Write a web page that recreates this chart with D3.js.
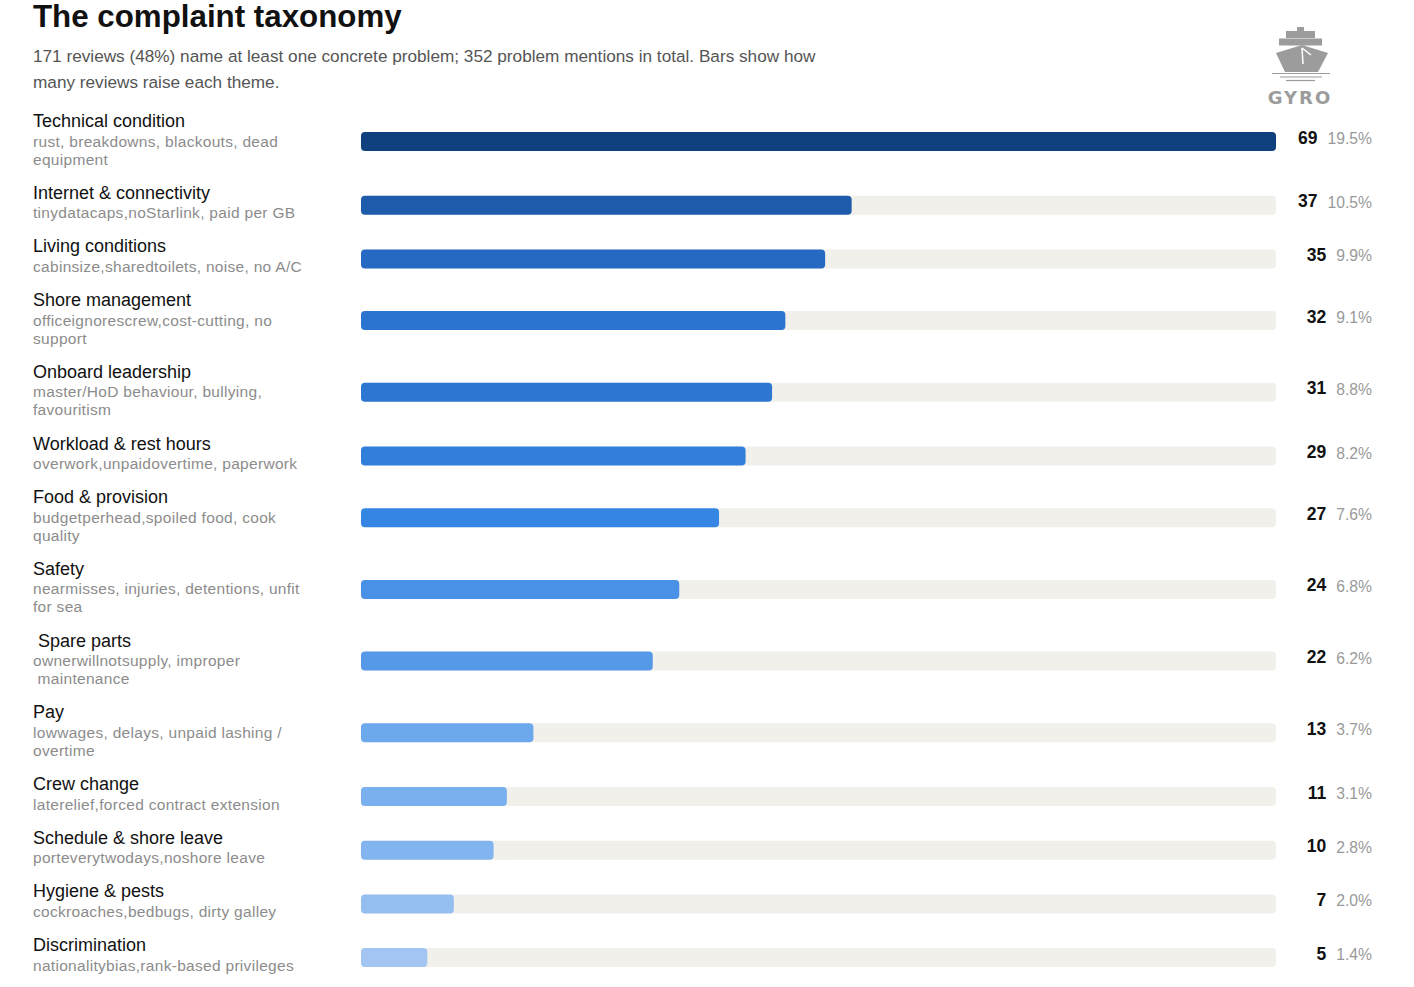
<!DOCTYPE html>
<html>
<head>
<meta charset="utf-8">
<script src="https://cdn.jsdelivr.net/npm/d3@7"></script>
<style>
  body { margin: 0; background: #fff; }
  svg { display: block; font-family: "Liberation Sans", Arial, sans-serif; }
</style>
</head>
<body>
<script>
// Complaint themes, in display order
const categories = [
  "Technical condition", "Internet & connectivity", "Living conditions", "Shore management",
  "Onboard leadership", "Workload & rest hours", "Food & provision", "Safety",
  " Spare parts", "Pay", "Crew change", "Schedule & shore leave", "Hygiene & pests", "Discrimination"
];

// Sub-line text as it wraps in the reference
const descriptions = [
  ["rust, breakdowns, blackouts, dead", "equipment"],
  ["tinydatacaps,noStarlink, paid per GB"],
  ["cabinsize,sharedtoilets, noise, no A/C"],
  ["officeignorescrew,cost-cutting, no", "support"],
  ["master/HoD behaviour, bullying,", "favouritism"],
  ["overwork,unpaidovertime, paperwork"],
  ["budgetperhead,spoiled food, cook", "quality"],
  ["nearmisses, injuries, detentions, unfit", "for sea"],
  ["ownerwillnotsupply, improper", " maintenance"],
  ["lowwages, delays, unpaid lashing /", "overtime"],
  ["laterelief,forced contract extension"],
  ["porteverytwodays,noshore leave"],
  ["cockroaches,bedbugs, dirty galley"],
  ["nationalitybias,rank-based privileges"]
];

const counts = [69, 37, 35, 32, 31, 29, 27, 24, 22, 13, 11, 10, 7, 5];
const sharePct = [19.5, 10.5, 9.9, 9.1, 8.8, 8.2, 7.6, 6.8, 6.2, 3.7, 3.1, 2.8, 2.0, 1.4];

const width = 1414, height = 987;

const svg = d3.select("body").append("svg")
  .attr("width", width)
  .attr("height", height);

// Header
svg.append("text")
  .attr("x", 33).attr("y", 27)
  .attr("font-size", 31.3).attr("font-weight", "bold").attr("fill", "#111")
  .text("The complaint taxonomy");

const subtitle = [
  "171 reviews (48%) name at least one concrete problem; 352 problem mentions in total. Bars show how",
  "many reviews raise each theme."
];
svg.append("g").selectAll("text")
  .data(subtitle)
  .join("text")
  .attr("x", 33).attr("y", (d, i) => 62 + i * 26)
  .attr("font-size", 17.2).attr("fill", "#555")
  .text(d => d);

// Logo
const logo = svg.append("g").attr("fill", "#9c9c9c");
logo.append("rect").attr("x", 1297).attr("y", 27).attr("width", 7).attr("height", 4);
logo.append("rect").attr("x", 1286).attr("y", 31).attr("width", 29).attr("height", 7);
logo.append("rect").attr("x", 1279).attr("y", 38.5).attr("width", 43).attr("height", 7);
logo.append("path").attr("d", "M1276,53 L1302,45 L1328,53 L1318,72 L1285,72 Z");
logo.append("path").attr("d", "M1302,48 L1303,64 M1302,48 L1311,55")
  .attr("stroke", "#fff").attr("stroke-width", 1.5).attr("fill", "none");
logo.append("g").attr("stroke", "#9c9c9c").attr("stroke-width", 1.2)
  .selectAll("line")
  .data([[1272, 1330, 73.5], [1280, 1322, 77], [1286, 1315, 80.5]])
  .join("line")
  .attr("x1", d => d[0]).attr("x2", d => d[1]).attr("y1", d => d[2]).attr("y2", d => d[2]);
svg.append("text")
  .attr("x", 1300).attr("y", 103.5).attr("text-anchor", "middle")
  .attr("font-family", "'DejaVu Sans', sans-serif")
  .attr("font-size", 18).attr("font-weight", "bold").attr("letter-spacing", 2)
  .attr("fill", "#9c9c9c")
  .text("GYRO");

// Row layout: each row's height follows its number of sub-lines
const firstNameY = 121;
const rows = [];
let y = firstNameY;
categories.forEach((c, i) => {
  const n = descriptions[i].length;
  rows.push({
    name: c, desc: descriptions[i], count: counts[i], pct: sharePct[i],
    nameY: y, barY: y + 12.5 + 8 * (n - 1)
  });
  y += 35.7 + 18 * n;
});

const x = d3.scaleLinear()
  .domain([0, d3.max(counts)])
  .range([361, 1276]);

const color = d3.scaleLinear()
  .domain([5, 10, 13, 22, 27, 35, 37, 69])
  .range(["#a2c5f3", "#82b4ef", "#6ca8ec", "#5599e8", "#3585e3", "#2569c3", "#1e5bab", "#10417f"]);

const barH = 19;

const row = svg.append("g").selectAll("g")
  .data(rows)
  .join("g");

row.append("text")
  .attr("x", 33).attr("y", d => d.nameY + 6)
  .attr("font-size", 18).attr("fill", "#111")
  .style("white-space", "pre")
  .text(d => d.name);

row.append("g").selectAll("text")
  .data(d => d.desc.map((t, j) => ({ t, y: d.nameY + 20.5 + 18 * j + 5 })))
  .join("text")
  .attr("x", 33).attr("y", d => d.y)
  .attr("font-size", 15.5).attr("letter-spacing", 0.3).attr("fill", "#8c8c8c")
  .style("white-space", "pre")
  .text(d => d.t);

// Track and bar
row.append("rect")
  .attr("x", x(0)).attr("y", d => d.barY - barH / 2)
  .attr("width", x.range()[1] - x(0)).attr("height", barH)
  .attr("rx", 4).attr("fill", "#f1f0eb");

row.append("rect")
  .attr("x", x(0)).attr("y", d => d.barY - barH / 2)
  .attr("width", d => x(d.count) - x(0)).attr("height", barH)
  .attr("rx", 4).attr("fill", d => color(d.count));

// Count + share, right-aligned as a pair
const valueRight = 1372;
row.each(function(d) {
  const g = d3.select(this);
  const pct = g.append("text")
    .attr("x", valueRight).attr("y", d.barY + 2.5)
    .attr("text-anchor", "end")
    .attr("font-size", 15.7).attr("fill", "#999")
    .text(d.pct.toFixed(1) + "%");
  const w = pct.node().getComputedTextLength();
  g.append("text")
    .attr("x", valueRight - w - 10).attr("y", d.barY + 2)
    .attr("text-anchor", "end")
    .attr("font-size", 17.5).attr("font-weight", "bold").attr("fill", "#111")
    .text(d.count);
});
</script>
</body>
</html>
